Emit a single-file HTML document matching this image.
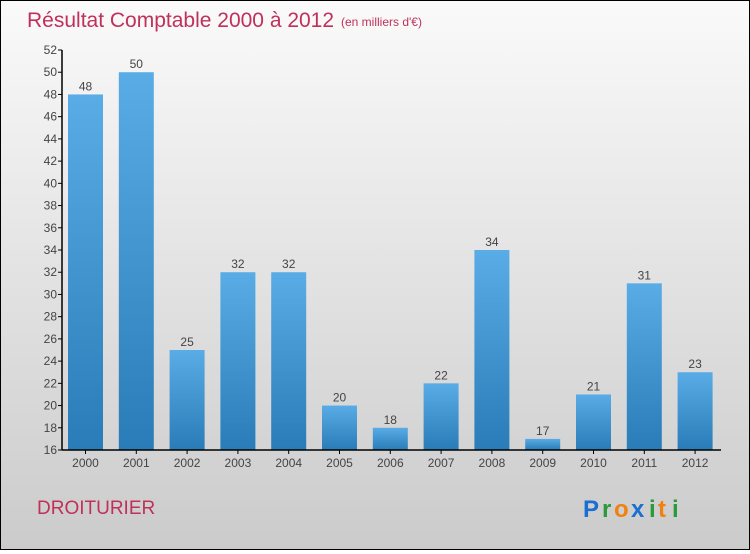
<!DOCTYPE html>
<html><head><meta charset="utf-8"><style>
body{margin:0;width:750px;height:550px;overflow:hidden;font-family:"Liberation Sans",sans-serif}
#c{position:absolute;left:0;top:0;width:748px;height:548px;border:1px solid #000;background:linear-gradient(#fafafa,#cbcbcb)}
</style></head><body>
<div id="c">
<svg width="748" height="548" id="svg">
<defs><linearGradient id="bg" x1="0" y1="0" x2="0" y2="1"><stop offset="0" stop-color="#5aace6"/><stop offset="1" stop-color="#2a7cb8"/></linearGradient></defs>
<text x="26" y="26" font-size="21" fill="#c0305a">Résultat Comptable 2000 à 2012</text>
<text x="340" y="25" font-size="12" fill="#c0305a">(en milliers d'€)</text>
<text x="36" y="513" font-size="19" fill="#c0305a">DROITURIER</text>
<g font-size="24" font-weight="bold"><text x="582" y="516" fill="#1a6fd0">P</text><text x="601" y="516" fill="#2a9a3a">r</text><text x="613" y="516" fill="#f08010">o</text><text x="630" y="516" fill="#1a6fd0">x</text><text x="648" y="516" fill="#2a9a3a">i</text><text x="657" y="516" fill="#f08010">t</text><text x="671" y="516" fill="#2a9a3a">i</text></g>
<g id="plot"></g>
</svg></div>
<script>
const years=["2000","2001","2002","2003","2004","2005","2006","2007","2008","2009","2010","2011","2012"];
const values=[48,50,25,32,32,20,18,22,34,17,21,31,23];
const yTicks=[16,18,20,22,24,26,28,30,32,34,36,38,40,42,44,46,48,50,52];
const NS="http://www.w3.org/2000/svg";
const g=document.getElementById('plot');
const y0=449,y1=49,vmin=16,vmax=52;
function y(v){return y0-(v-vmin)/(vmax-vmin)*(y0-y1);}
function x(i){return 67+i*50.8;}
function el(t,a,txt){const e=document.createElementNS(NS,t);for(const k in a)e.setAttribute(k,a[k]);if(txt!=null)e.textContent=txt;g.appendChild(e);return e;}
years.forEach((yr,i)=>{
 const r=el('rect',{x:x(i),y:y(values[i]),width:35,height:y0-y(values[i]),fill:'url(#bg)'});
 
 
 const t=el('text',{x:x(i)+17.5,y:y(values[i])-4,'font-size':12,fill:'#444','text-anchor':'middle'},values[i]);
 
 
 const l=el('text',{x:x(i)+17.5,y:466,'font-size':12,fill:'#444','text-anchor':'middle'},yr);
 
 
 el('line',{x1:x(i)+17.5,x2:x(i)+17.5,y1:y0,y2:y0+4,stroke:'#000'});
});
yTicks.forEach(v=>{
 el('line',{x1:57,x2:61,y1:y(v),y2:y(v),stroke:'#000'});
 const t=el('text',{x:56,y:y(v)+4,'font-size':12,fill:'#444','text-anchor':'end'},v);
 
 
});
const ya=el('line',{x1:61,x2:61,y1:y1,y2:y0,stroke:'#000','stroke-width':1.5});


const xa=el('line',{x1:61,x2:720,y1:y0,y2:y0,stroke:'#000','stroke-width':1.5});


</script>
</body></html>
